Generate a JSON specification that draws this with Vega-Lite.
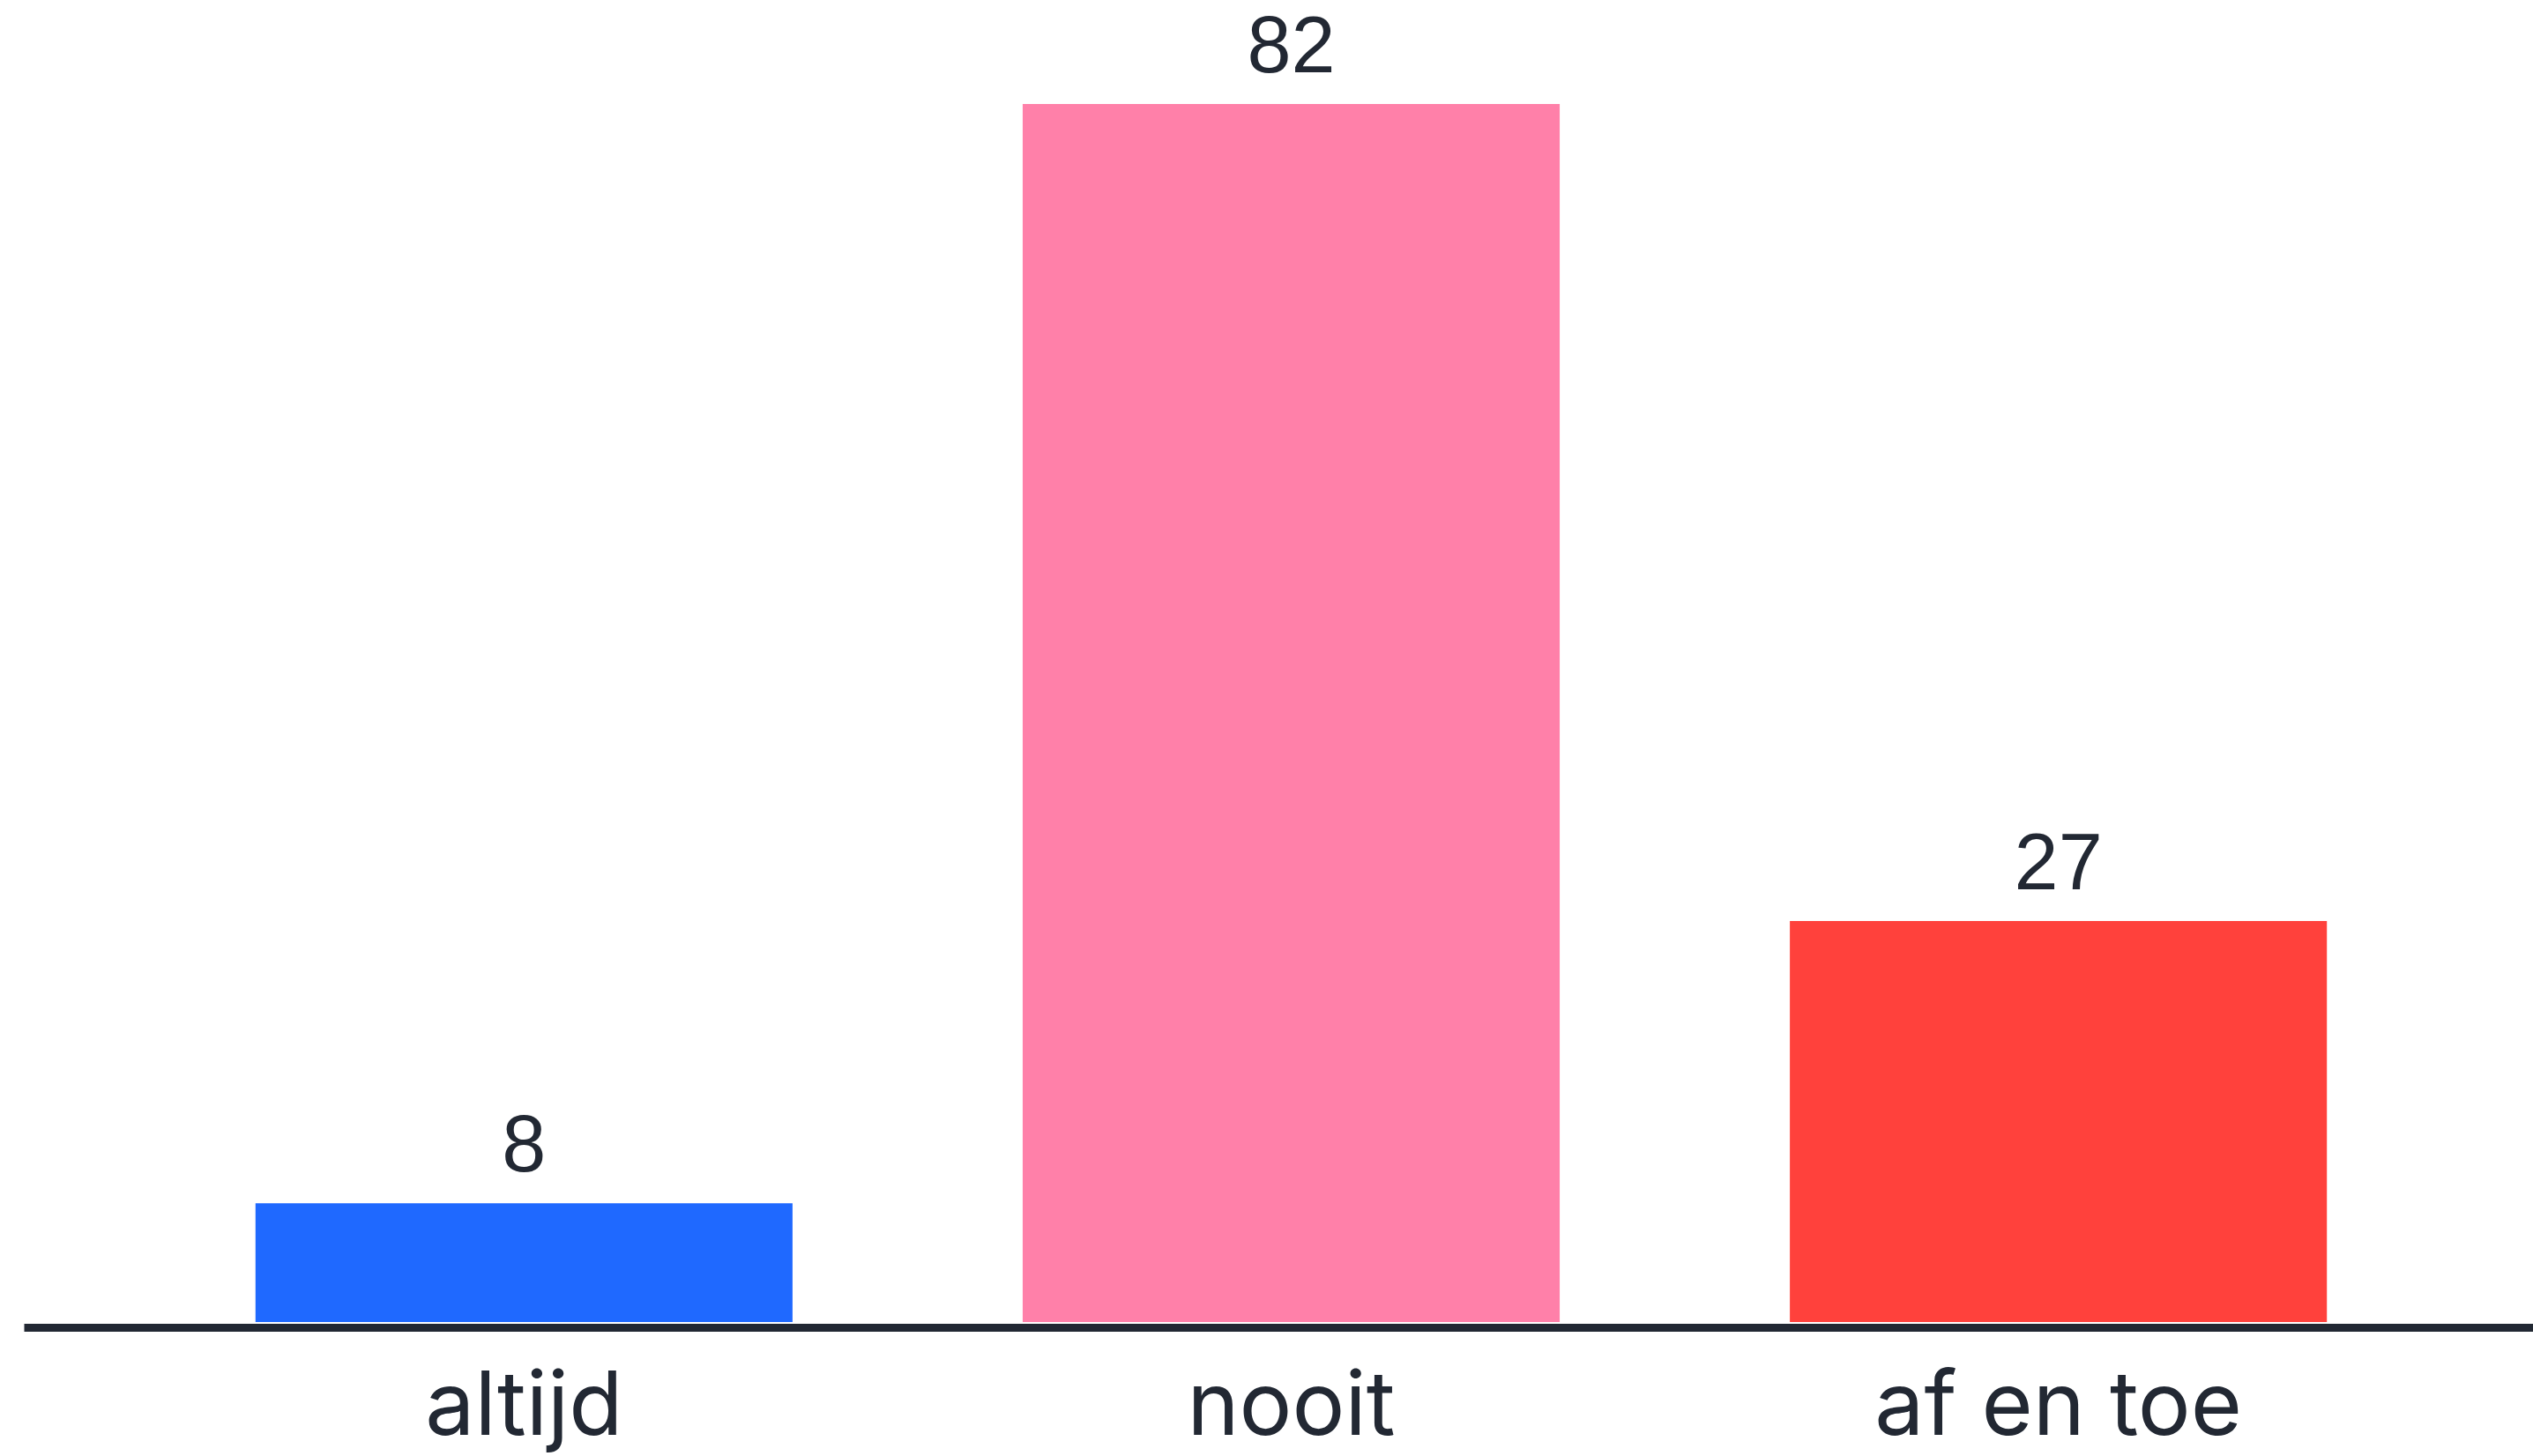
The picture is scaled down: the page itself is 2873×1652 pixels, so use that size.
{
  "$schema": "https://vega.github.io/schema/vega-lite/v6.json",
  "autosize": {"type": "none"},
  "width": 2875,
  "height": 1500,
  "padding": {"left": 27, "top": 0, "right": 0, "bottom": 152},
  "background": "#ffffff",
  "config": {"view": {"stroke": null}},
  "data": {"values": [
    {"label": "altijd", "value": 8},
    {"label": "nooit", "value": 82},
    {"label": "af en toe", "value": 27}
  ]},
  "encoding": {
    "x": {"field": "label", "type": "nominal", "sort": null,
      "scale": {"paddingInner": 0.3, "paddingOuter": 0.302},
      "axis": {"title": null, "labelAngle": 0, "ticks": false, "tickSize": 0, "offset": 6,
        "domainWidth": 9, "domainColor": "#222833", "labelColor": "#222833", "labelLimit": 0,
        "labelFont": "Inter", "labelFontSize": 100, "labelBaseline": "alphabetic", "labelPadding": 121}},
    "y": {"field": "value", "type": "quantitative", "scale": {"domain": [0, 89], "nice": false}, "axis": null}
  },
  "layer": [
    {"mark": {"type": "bar"},
     "encoding": {"color": {"field": "label", "type": "nominal", "sort": null, "legend": null,
       "scale": {"domain": ["altijd", "nooit", "af en toe"], "range": ["#1f69ff", "#ff80a9", "#ff413c"]}}}},
    {"mark": {"type": "text", "baseline": "alphabetic", "dy": -36, "font": "Liberation Sans", "fontSize": 90, "color": "#222833"},
     "encoding": {"text": {"field": "value", "type": "quantitative"}}}
  ]
}
